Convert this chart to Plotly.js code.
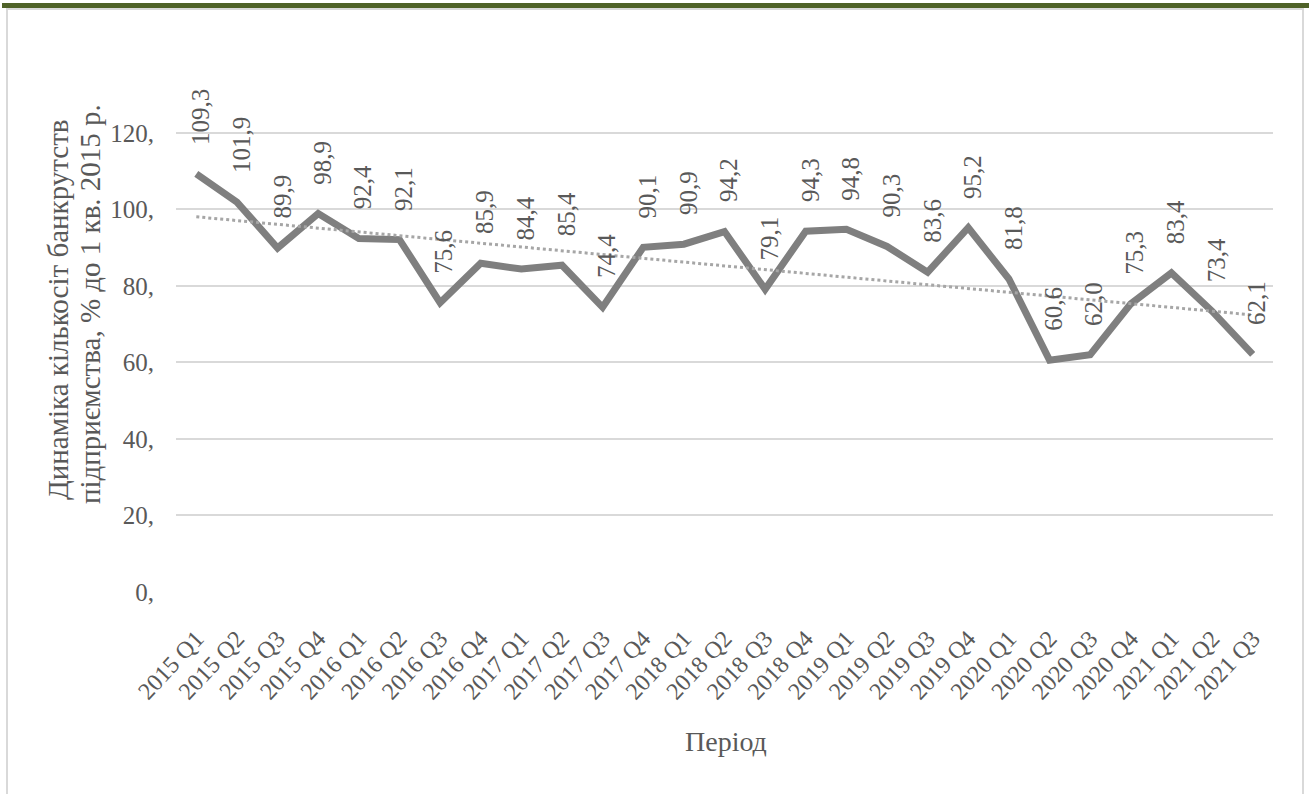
<!DOCTYPE html>
<html>
<head>
<meta charset="utf-8">
<script src="https://cdn.plot.ly/plotly-3.0.1.min.js"></script>
<style>html,body{margin:0;padding:0;background:#fff;overflow:hidden}#chart{width:1309px;height:794px}</style>
</head>
<body>
<div id="chart"></div>
<script>
const categories = ["2015 Q1","2015 Q2","2015 Q3","2015 Q4","2016 Q1","2016 Q2","2016 Q3","2016 Q4",
  "2017 Q1","2017 Q2","2017 Q3","2017 Q4","2018 Q1","2018 Q2","2018 Q3","2018 Q4",
  "2019 Q1","2019 Q2","2019 Q3","2019 Q4","2020 Q1","2020 Q2","2020 Q3","2020 Q4",
  "2021 Q1","2021 Q2","2021 Q3"];
const values = [109.3,101.9,89.9,98.9,92.4,92.1,75.6,85.9,84.4,85.4,74.4,90.1,90.9,94.2,79.1,94.3,
  94.8,90.3,83.6,95.2,81.8,60.6,62.0,75.3,83.4,73.4,62.1];
const yTickVals = [0,20,40,60,80,100,120];
const yTickText = ["0,","20,","40,","60,","80,","100,","120,"];
const yTitleLines = ["Динаміка кількосіт банкрутств","підприємства, % до 1 кв. 2015 р."];
const xTitle = "Період";

// Linear trendline (least squares over the series, as the spreadsheet does)
const n = values.length;
const idx = values.map((v,i)=>i);
const mx = idx.reduce((a,b)=>a+b,0)/n;
const my = values.reduce((a,b)=>a+b,0)/n;
let sxy=0,sxx=0;
for(let i=0;i<n;i++){sxy+=(idx[i]-mx)*(values[i]-my);sxx+=(idx[i]-mx)*(idx[i]-mx);}
const slope = sxy/sxx, intercept = my - slope*mx;
const trend = idx.map(i=>intercept+slope*i);

const W=1309,H=794;
const M={l:176,r:36,t:129,b:202};
const pw=W-M.l-M.r, ph=H-M.t-M.b;
const px=x=>(x-M.l)/pw;
const py=y=>(H-M.b-y)/ph;

const FONT="'Liberation Serif', 'DejaVu Serif', serif";
const TXT="#595959";

const annotations = values.map((v,i)=>({
  x: categories[i], y: v, xref:'x', yref:'y',
  text: v.toFixed(1).replace('.',','),
  textangle: -90, showarrow:false,
  xanchor:'center', yanchor:'bottom', yshift: 27, xshift: 4,
  font:{family:FONT,size:25,color:TXT}
}));
annotations.push({
  xref:'paper', yref:'paper', x:px(58), y:py(310),
  text: yTitleLines[0], textangle:-90, showarrow:false,
  xanchor:'center', yanchor:'middle',
  font:{family:FONT,size:29,color:TXT}
});
annotations.push({
  xref:'paper', yref:'paper', x:px(90), y:py(304),
  text: yTitleLines[1], textangle:-90, showarrow:false,
  xanchor:'center', yanchor:'middle',
  font:{family:FONT,size:29,color:TXT}
});
annotations.push({
  xref:'paper', yref:'paper', x:px(726), y:py(741),
  text: xTitle, showarrow:false, xanchor:'center', yanchor:'middle',
  font:{family:FONT,size:28,color:TXT}
});

const shapes = [
  {type:'rect', xref:'paper', yref:'paper', x0:px(7), x1:px(1303), y0:py(800), y1:py(9),
   line:{color:'#d9d9d9',width:2}, fillcolor:'rgba(0,0,0,0)', layer:'below'},
  {type:'rect', xref:'paper', yref:'paper', x0:px(2), x1:px(1309), y0:py(8), y1:py(3),
   line:{width:0}, fillcolor:'#4f6228', layer:'above'}
];

const traces = [
  {x:categories, y:values, type:'scatter', mode:'lines',
   line:{color:'#7f7f7f',width:7}, hoverinfo:'skip'},
  {x:categories, y:trend, type:'scatter', mode:'lines',
   line:{color:'#a6a6a6',width:3,dash:'dot'}, hoverinfo:'skip'}
];

const layout = {
  width:W, height:H, margin:M, showlegend:false,
  paper_bgcolor:'#ffffff', plot_bgcolor:'#ffffff',
  font:{family:FONT,color:TXT},
  xaxis:{type:'category', range:[-0.5,n-0.5], tickangle:-47, showgrid:false, zeroline:false,
    showline:false, ticks:'outside', ticklen:22, tickcolor:'rgba(0,0,0,0)',
    tickfont:{family:FONT,size:24,color:TXT}},
  yaxis:{range:[0,121], tickvals:yTickVals, ticktext:yTickText, showgrid:true,
    gridcolor:'#d9d9d9', gridwidth:2, zeroline:false, showline:false,
    ticks:'outside', ticklen:16, tickcolor:'rgba(0,0,0,0)',
    tickfont:{family:FONT,size:25,color:TXT}},
  annotations:annotations, shapes:shapes
};
Plotly.newPlot('chart', traces, layout, {staticPlot:true});
</script>
</body>
</html>
